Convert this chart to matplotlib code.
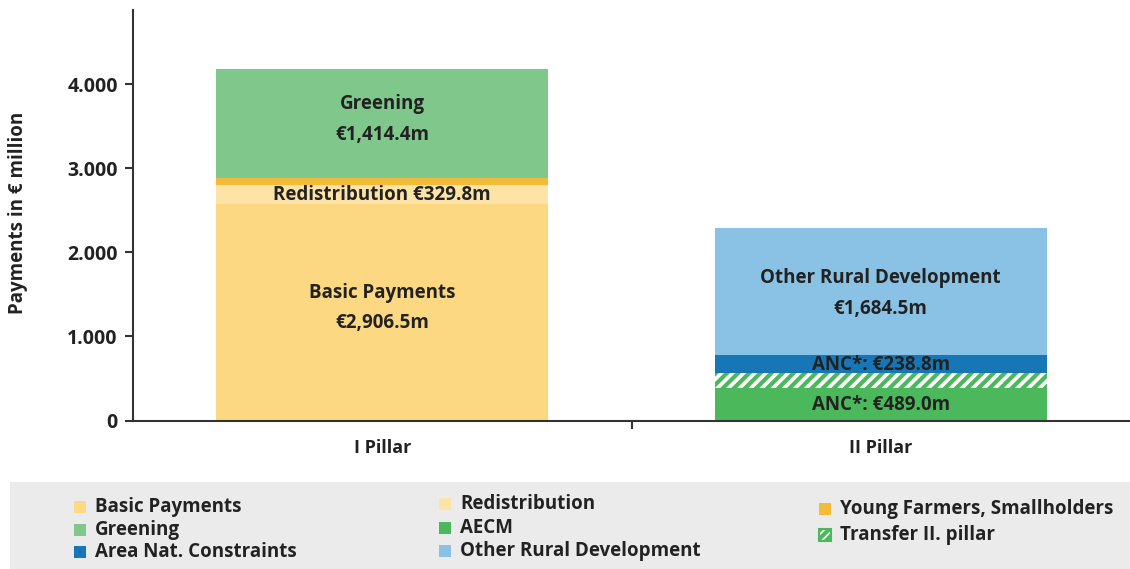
import matplotlib
matplotlib.use("Agg")
import matplotlib.pyplot as plt
from matplotlib.patches import Rectangle
from matplotlib.ticker import FuncFormatter

plt.rcParams['font.family'] = ['Open Sans', 'DejaVu Sans']
plt.rcParams['hatch.linewidth'] = 3.0

# data (bar heights, labels as printed)
pillars = ['I Pillar', 'II Pillar']
basic = [2571, 0]
redistribution = [229, 0]
young_farmers = [87, 0]
greening = [1292, 0]
aecm = [0, 383]
transfer = [0, 178]
anc = [0, 218]
other_rd = [0, 1510]

legend_labels = ['Basic Payments', 'Greening', 'Area Nat. Constraints',
                 'Redistribution', 'AECM', 'Other Rural Development',
                 'Young Farmers, Smallholders', 'Transfer II. pillar']

c_basic = '#fdd882'
c_redis = '#fde4a6'
c_young = '#f2bb3a'
c_green = '#7fc78a'
c_aecm = '#4cb85c'
c_anc = '#1776b6'
c_other = '#8ac2e5'
txt = '#222222'

fig = plt.figure(figsize=(11.3, 5.69), dpi=100)
ax = fig.add_axes([133 / 1130, 1 - 420.5 / 569, 997 / 1130, 410.5 / 569])

x = [0, 1]
w = 0.665
bottom = [0, 0]
segs = [(basic, c_basic, None), (redistribution, c_redis, None),
        (young_farmers, c_young, None), (greening, c_green, None),
        (aecm, c_aecm, None), (transfer, 'white', '///'),
        (anc, c_anc, None), (other_rd, c_other, None)]
for vals, col, hatch in segs:
    if hatch:
        ax.bar(x, vals, w, bottom=bottom, color='white', edgecolor=c_aecm,
               hatch=hatch, linewidth=0)
    else:
        ax.bar(x, vals, w, bottom=bottom, color=col, linewidth=0)
    bottom = [b + v for b, v in zip(bottom, vals)]

# labels inside the bars
kw = dict(ha='center', va='center', fontsize=13.5, fontweight='bold', color=txt)
ax.text(0, 3763, 'Greening', **kw)
ax.text(0, 3395, '€1,414.4m', **kw)
ax.text(0, 2681, 'Redistribution €329.8m', **kw)
ax.text(0, 1516, 'Basic Payments', **kw)
ax.text(0, 1159, '€2,906.5m', **kw)
ax.text(1, 1694, 'Other Rural Development', **kw)
ax.text(1, 1326, '€1,684.5m', **kw)
ax.text(1, 660, 'ANC*: €238.8m', **kw)
ax.text(1, 184, 'ANC*: €489.0m', **kw)

ax.set_xlim(-0.5, 1.5)
ax.set_ylim(0, 4880)
ax.set_yticks([0, 1000, 2000, 3000, 4000])
ax.yaxis.set_major_formatter(FuncFormatter(lambda v, p: '{:,.0f}'.format(v).replace(',', '.')))
ax.set_xticks([0.5])
ax.set_xticklabels([''])
for xi, name in zip(x, pillars):
    ax.text(xi, -0.068, name, transform=ax.get_xaxis_transform(), ha='center', va='center',
            fontsize=13, fontweight='bold', color=txt)
for s in ['top', 'right']:
    ax.spines[s].set_visible(False)
for s in ['left', 'bottom']:
    ax.spines[s].set_color('#333333')
    ax.spines[s].set_linewidth(1.5)
ax.tick_params(axis='y', length=6, width=1.5, color='#333333', labelsize=14, labelcolor=txt, pad=5)
ax.tick_params(axis='x', length=6, width=1.5, color='#333333')
for lab in ax.get_yticklabels():
    lab.set_fontweight('bold')
fig.text(18 / 1130, 1 - 213 / 569, 'Payments in € million', rotation=90, ha='center', va='center',
         fontsize=13.5, fontweight='bold', color=txt)

# legend panel
fig.patches.append(Rectangle((10 / 1130, 0), 1120 / 1130, 87 / 569, transform=fig.transFigure,
                             facecolor='#ebebeb', edgecolor='none', zorder=0))
leg_cols = [c_basic, c_green, c_anc, c_redis, c_aecm, c_other, c_young, None]
leg_pos = [(74, 507), (74, 530), (74, 552), (439, 504), (439, 528), (439, 551), (819, 509), (819, 535)]
for lab, col, (px, py) in zip(legend_labels, leg_cols, leg_pos):
    if col is None:
        r = Rectangle((px / 1130, 1 - (py + 6) / 569), 12 / 1130, 12 / 569, transform=fig.transFigure,
                      facecolor='white', edgecolor=c_aecm, hatch='////', linewidth=1.5)
    else:
        r = Rectangle((px / 1130, 1 - (py + 6) / 569), 12 / 1130, 12 / 569, transform=fig.transFigure,
                      facecolor=col, edgecolor='none')
    fig.patches.append(r)
    fig.text((px + 21) / 1130, 1 - py / 569, lab, ha='left', va='center', fontsize=13.5,
             fontweight='bold', color=txt)

fig.savefig('out.png', dpi=100)
